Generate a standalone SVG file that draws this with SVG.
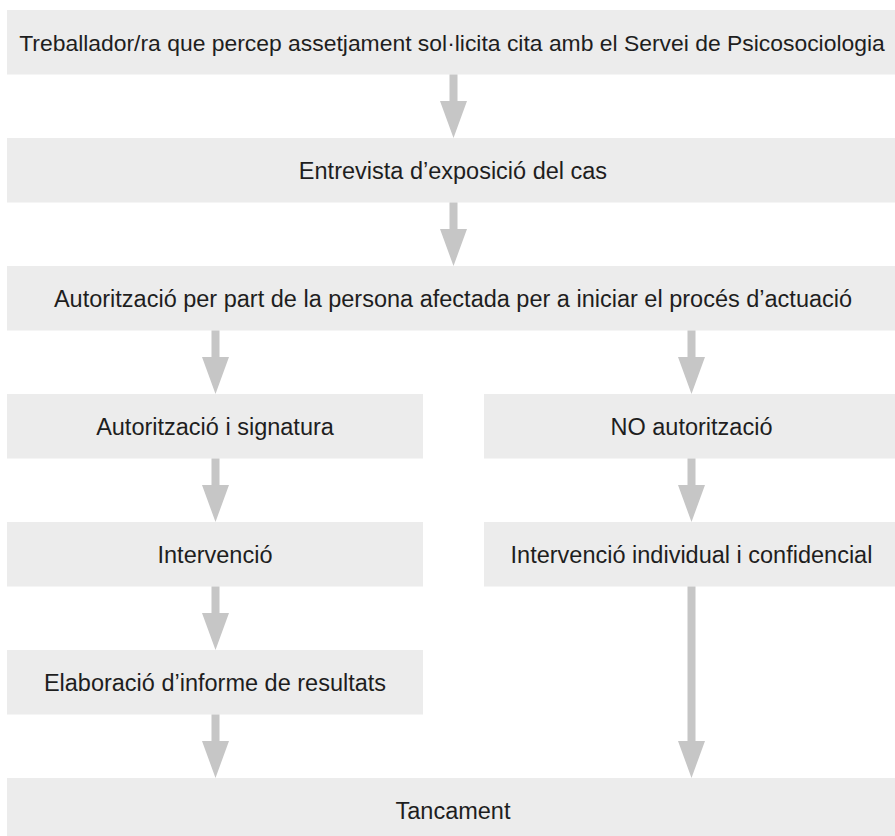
<svg xmlns="http://www.w3.org/2000/svg" width="895" height="836" viewBox="0 0 895 836">
<style>
.box{fill:#ececec}
.lbl{font-family:"Liberation Sans",Arial,sans-serif;font-size:23.5px;fill:#1e1e1e;text-anchor:middle}
.arr{fill:#c6c6c6}
</style>
<rect width="895" height="836" fill="#ffffff"/>
<g id="n1"><rect class="box" x="7" y="10" width="888" height="64.5"/><text class="lbl" x="452" y="51" style="font-size:22.9px">Treballador/ra que percep assetjament sol·licita cita amb el Servei de Psicosociologia</text></g>
<g id="n2"><rect class="box" x="7" y="138" width="888" height="64.5"/><text class="lbl" x="453" y="179">Entrevista d’exposició del cas</text></g>
<g id="n3"><rect class="box" x="7" y="266" width="888" height="64.5"/><text class="lbl" x="453" y="307">Autorització per part de la persona afectada per a iniciar el procés d’actuació</text></g>
<g id="n4"><rect class="box" x="7" y="394" width="416" height="64.5"/><text class="lbl" x="215" y="435">Autorització i signatura</text></g>
<g id="n5"><rect class="box" x="484" y="394" width="411" height="64.5"/><text class="lbl" x="691.5" y="435">NO autorització</text></g>
<g id="n6"><rect class="box" x="7" y="522" width="416" height="64.5"/><text class="lbl" x="215" y="563">Intervenció</text></g>
<g id="n7"><rect class="box" x="484" y="522" width="411" height="64.5"/><text class="lbl" x="691.5" y="563">Intervenció individual i confidencial</text></g>
<g id="n8"><rect class="box" x="7" y="650" width="416" height="64.5"/><text class="lbl" x="215" y="691">Elaboració d’informe de resultats</text></g>
<g id="n9"><rect class="box" x="7" y="778" width="888" height="58"/><text class="lbl" x="453" y="819">Tancament</text></g>
<g id="connectors">
<path class="arr" d="M449.5,74.5V101H440L453.5,138L467,101H457.5V74.5Z"/>
<path class="arr" d="M449.5,202.5V229H440L453.5,266L467,229H457.5V202.5Z"/>
<path class="arr" d="M211.5,330.5V357H202L215.5,394L229,357H219.5V330.5Z"/>
<path class="arr" d="M687.5,330.5V357H678L691.5,394L705,357H695.5V330.5Z"/>
<path class="arr" d="M211.5,458.5V485H202L215.5,522L229,485H219.5V458.5Z"/>
<path class="arr" d="M687.5,458.5V485H678L691.5,522L705,485H695.5V458.5Z"/>
<path class="arr" d="M211.5,586.5V613H202L215.5,650L229,613H219.5V586.5Z"/>
<path class="arr" d="M211.5,714.5V741H202L215.5,778L229,741H219.5V714.5Z"/>
<path class="arr" d="M687.5,586.5V741H678L691.5,778L705,741H695.5V586.5Z"/>
</g>
</svg>
